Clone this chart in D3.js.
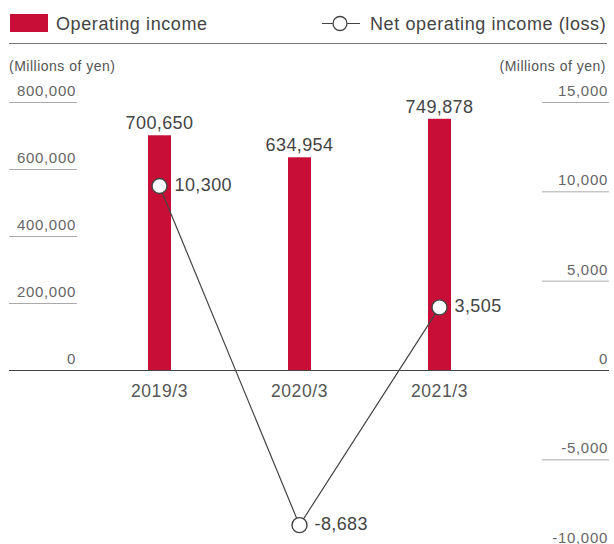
<!DOCTYPE html>
<html lang="en">
<head>
<meta charset="UTF-8">
<title>Operating income</title>
<script src="https://d3js.org/d3.v7.min.js"></script>
<style>
  body { margin: 0; background: #fff; }
  text { font-family: "Liberation Sans", Arial, sans-serif; }
</style>
</head>
<body>
<div id="chart"></div>
<script>
var years = ["2019/3", "2020/3", "2021/3"];
var operatingIncome = [700650, 634954, 749878];
var netIncome = [10300, -8683, 3505];
var leftTicks = [0, 200000, 400000, 600000, 800000];
var rightTicks = [-10000, -5000, 0, 5000, 10000, 15000];

var width = 614, height = 544;
var red = "#c80e37";
var fmt = d3.formatLocale({ decimal: ".", thousands: ",", grouping: [3], currency: ["", ""], minus: "-" }).format(",");

var svg = d3.select("#chart").append("svg")
  .attr("width", width)
  .attr("height", height);

var x = d3.scaleBand().domain(years).range([89.5, 509.5]);
var barW = 23;

var yL = d3.scaleLinear().domain([0, 800000]).range([370, 102]);
var yR = d3.scaleLinear().domain([0, 15000]).range([370, 102]);

// legend
svg.append("rect").attr("x", 10).attr("y", 14).attr("width", 38).attr("height", 18).attr("fill", red);
svg.append("text").attr("x", 56).attr("y", 30).attr("font-size", 18).attr("letter-spacing", 0.6)
  .attr("fill", "#444").text("Operating income");
svg.append("line").attr("x1", 322).attr("x2", 360).attr("y1", 23.5).attr("y2", 23.5).attr("stroke", "#444").attr("stroke-width", 1.2);
svg.append("circle").attr("cx", 340).attr("cy", 23.5).attr("r", 7).attr("fill", "#fff").attr("stroke", "#444").attr("stroke-width", 1.3);
svg.append("text").attr("x", 370).attr("y", 30).attr("font-size", 18).attr("letter-spacing", 0.6)
  .attr("fill", "#444").text("Net operating income (loss)");
svg.append("line").attr("x1", 9).attr("x2", 607).attr("y1", 43.5).attr("y2", 43.5).attr("stroke", "#777");

// units
svg.append("text").attr("x", 9).attr("y", 71).attr("font-size", 14).attr("letter-spacing", 0.5)
  .attr("fill", "#555").text("(Millions of yen)");
svg.append("text").attr("x", 606).attr("y", 71).attr("text-anchor", "end").attr("font-size", 14).attr("letter-spacing", 0.5)
  .attr("fill", "#555").text("(Millions of yen)");

// left axis
var gl = svg.append("g");
leftTicks.filter(d => d !== 0).forEach(function (t) {
  gl.append("line").attr("x1", 9).attr("x2", 77).attr("y1", yL(t) + 0.5).attr("y2", yL(t) + 0.5).attr("stroke", "#aaa");
});
leftTicks.forEach(function (t) {
  gl.append("text").attr("x", 76).attr("y", yL(t) - 6).attr("text-anchor", "end")
    .attr("font-size", 15).attr("letter-spacing", 0.7).attr("fill", "#666").text(fmt(t));
});

// right axis
var gr = svg.append("g");
rightTicks.filter(d => d !== 0).forEach(function (t) {
  gr.append("line").attr("x1", 542).attr("x2", 609).attr("y1", yR(t) + 0.5).attr("y2", yR(t) + 0.5).attr("stroke", "#aaa");
});
rightTicks.forEach(function (t) {
  gr.append("text").attr("x", 608).attr("y", yR(t) - 6).attr("text-anchor", "end")
    .attr("font-size", 15).attr("letter-spacing", 0.7).attr("fill", "#666").text(fmt(t));
});

// bars
svg.selectAll(".bar").data(years).enter().append("rect")
  .attr("class", "bar")
  .attr("x", d => x(d) + (x.bandwidth() - barW) / 2)
  .attr("width", barW)
  .attr("y", (d, i) => yL(operatingIncome[i]))
  .attr("height", (d, i) => yL(0) - yL(operatingIncome[i]))
  .attr("fill", red);

svg.selectAll(".barlabel").data(years).enter().append("text")
  .attr("x", d => x(d) + x.bandwidth() / 2)
  .attr("y", (d, i) => yL(operatingIncome[i]) - 6)
  .attr("text-anchor", "middle")
  .attr("font-size", 18).attr("letter-spacing", 0.4).attr("fill", "#444")
  .text((d, i) => fmt(operatingIncome[i]));

// zero line
svg.append("line").attr("x1", 9).attr("x2", 609).attr("y1", 370.5).attr("y2", 370.5).attr("stroke", "#444");

// x labels
svg.selectAll(".xlab").data(years).enter().append("text")
  .attr("x", d => x(d) + x.bandwidth() / 2)
  .attr("y", 397)
  .attr("text-anchor", "middle")
  .attr("font-size", 17.5).attr("letter-spacing", 0.6).attr("fill", "#555")
  .text(d => d);

// net line
var line = d3.line()
  .x((d, i) => x(years[i]) + x.bandwidth() / 2)
  .y(d => yR(d));

svg.append("path").datum(netIncome)
  .attr("d", line)
  .attr("fill", "none")
  .attr("stroke", "#444")
  .attr("stroke-width", 1.2);

svg.selectAll(".pt").data(netIncome).enter().append("circle")
  .attr("cx", (d, i) => x(years[i]) + x.bandwidth() / 2)
  .attr("cy", d => yR(d))
  .attr("r", 7.5)
  .attr("fill", "#fff")
  .attr("stroke", "#444")
  .attr("stroke-width", 1.4);

svg.selectAll(".ptlabel").data(netIncome).enter().append("text")
  .attr("x", (d, i) => x(years[i]) + x.bandwidth() / 2 + 15)
  .attr("y", d => yR(d) + 5)
  .attr("font-size", 18).attr("letter-spacing", 0.4).attr("fill", "#444")
  .text(d => fmt(d));
</script>
</body>
</html>
